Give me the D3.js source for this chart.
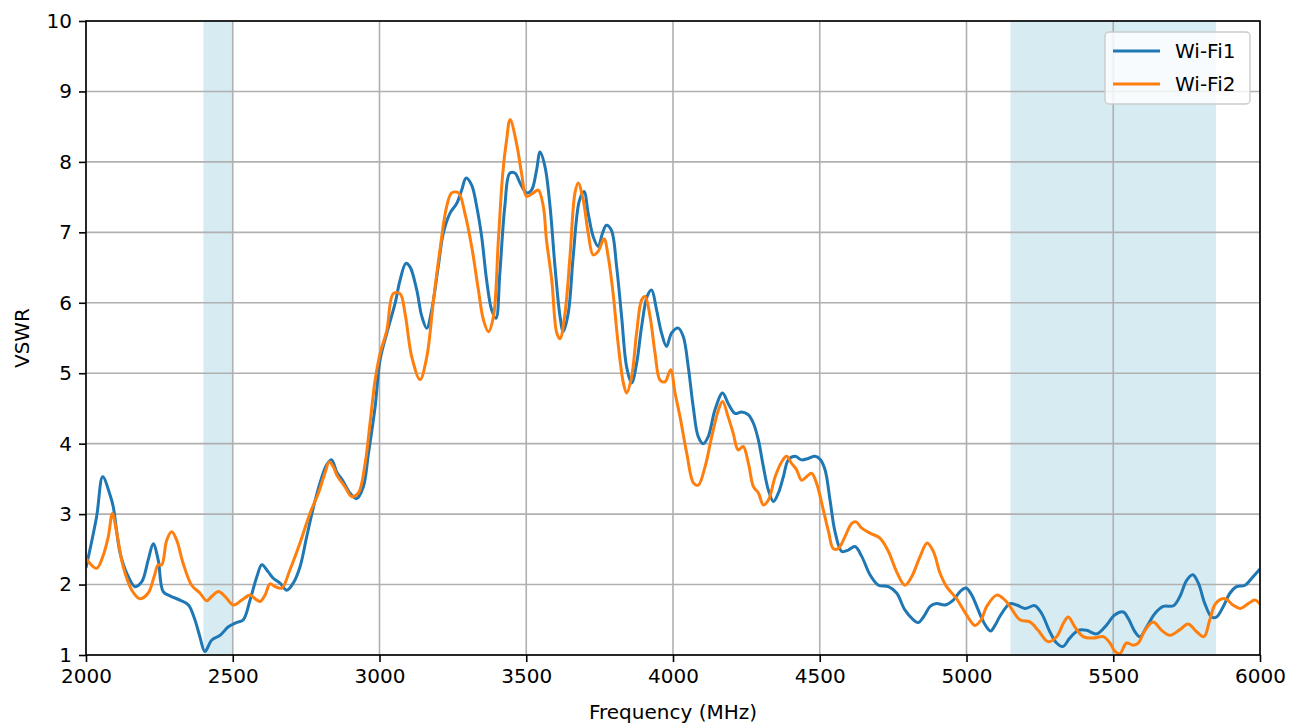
<!DOCTYPE html>
<html>
<head>
<meta charset="utf-8">
<script src="https://cdn.jsdelivr.net/npm/d3@7"></script>
<style>
  body { margin: 0; background: #fff; }
  text { font-family: "DejaVu Sans", sans-serif; }
</style>
</head>
<body>
<svg id="chart" width="1302" height="727"></svg>
<script>
// Wi-Fi1 (blue) readings: frequency in MHz, VSWR
const wifi1Freq = [2000,2036,2057,2082,2093,2116,2139,2167,2190,2212,2229,2246,2263,2286,2320,2349,2371,2388,2405,2428,2457,2485,2513,2536,2559,2582,2599,2621,2638,2661,2684,2706,2729,2752,2775,2797,2820,2837,2854,2877,2899,2922,2945,2962,2985,3002,3025,3053,3070,3090,3104,3127,3144,3161,3178,3200,3217,3240,3263,3280,3295,3314,3331,3348,3365,3382,3397,3410,3427,3444,3462,3479,3501,3518,3535,3547,3564,3581,3598,3615,3626,3643,3660,3681,3697,3711,3728,3745,3760,3773,3790,3808,3825,3842,3859,3876,3893,3912,3927,3944,3961,3978,3995,4018,4035,4052,4069,4086,4103,4120,4143,4169,4188,4211,4234,4257,4274,4291,4308,4325,4342,4359,4376,4393,4416,4438,4461,4484,4501,4518,4535,4552,4575,4597,4620,4643,4671,4700,4734,4762,4790,4819,4835,4855,4876,4898,4927,4955,4978,4998,5018,5035,5052,5068,5082,5097,5114,5148,5171,5199,5233,5256,5284,5307,5328,5352,5381,5409,5443,5472,5506,5534,5551,5574,5591,5614,5642,5670,5705,5727,5750,5771,5790,5812,5835,5852,5875,5898,5920,5949,5972,6000];
const wifi1Vswr = [2.24,2.96,3.53,3.27,3.10,2.45,2.16,1.97,2.04,2.35,2.58,2.35,1.90,1.84,1.78,1.71,1.50,1.26,1.05,1.21,1.28,1.40,1.46,1.50,1.78,2.11,2.28,2.18,2.09,2.02,1.92,2.02,2.25,2.68,3.10,3.44,3.70,3.77,3.60,3.46,3.30,3.22,3.39,3.85,4.52,5.19,5.57,5.99,6.32,6.56,6.51,6.18,5.81,5.64,5.90,6.51,6.98,7.27,7.41,7.60,7.77,7.67,7.37,6.94,6.32,5.90,5.78,6.42,7.37,7.84,7.84,7.70,7.56,7.60,7.88,8.14,7.93,7.37,6.51,5.81,5.59,5.85,6.66,7.45,7.58,7.27,6.94,6.80,6.99,7.10,7.03,6.51,5.80,5.09,4.86,5.14,5.66,6.09,6.18,5.90,5.57,5.38,5.57,5.64,5.52,5.09,4.52,4.10,4.00,4.10,4.48,4.72,4.57,4.43,4.45,4.41,4.29,4.05,3.67,3.34,3.18,3.30,3.53,3.77,3.82,3.77,3.79,3.82,3.78,3.63,3.20,2.75,2.47,2.49,2.54,2.40,2.14,1.99,1.97,1.88,1.64,1.50,1.46,1.55,1.69,1.73,1.71,1.78,1.90,1.95,1.85,1.69,1.52,1.40,1.34,1.42,1.55,1.73,1.71,1.66,1.70,1.59,1.33,1.17,1.12,1.24,1.35,1.35,1.30,1.40,1.57,1.61,1.52,1.33,1.26,1.40,1.59,1.69,1.70,1.83,2.06,2.14,2.02,1.73,1.54,1.54,1.69,1.88,1.97,1.99,2.09,2.22];

// Wi-Fi2 (orange) readings
const wifi2Freq = [2000,2036,2059,2076,2090,2105,2127,2156,2184,2212,2232,2246,2258,2275,2292,2309,2331,2360,2388,2411,2428,2451,2474,2502,2531,2559,2576,2593,2610,2627,2644,2667,2695,2729,2763,2792,2814,2829,2843,2854,2882,2905,2928,2951,2968,2985,3002,3025,3047,3070,3087,3110,3138,3161,3184,3206,3229,3246,3269,3291,3314,3337,3354,3371,3388,3405,3420,3433,3445,3467,3484,3501,3524,3541,3558,3569,3587,3604,3615,3632,3649,3666,3677,3694,3711,3728,3745,3765,3779,3796,3813,3831,3842,3859,3876,3893,3905,3922,3939,3956,3973,3992,4007,4024,4047,4070,4086,4109,4132,4155,4169,4188,4205,4222,4239,4257,4274,4291,4308,4325,4348,4370,4387,4404,4421,4438,4455,4472,4489,4512,4530,4546,4563,4586,4609,4624,4643,4671,4705,4734,4762,4790,4813,4842,4866,4887,4910,4932,4966,5000,5029,5050,5069,5103,5131,5148,5182,5216,5244,5278,5307,5330,5347,5369,5398,5432,5466,5489,5506,5523,5545,5568,5585,5608,5636,5665,5693,5727,5755,5784,5809,5829,5849,5880,5908,5932,5960,5983,6000];
const wifi2Vswr = [2.37,2.23,2.42,2.68,3.01,2.73,2.25,1.92,1.80,1.88,2.11,2.28,2.28,2.63,2.75,2.63,2.30,1.99,1.88,1.77,1.83,1.90,1.83,1.71,1.78,1.85,1.80,1.76,1.85,2.01,1.97,1.95,2.21,2.59,3.01,3.30,3.58,3.74,3.67,3.56,3.39,3.25,3.30,3.72,4.30,4.90,5.28,5.61,6.13,6.13,5.85,5.23,4.91,5.23,6.04,6.75,7.37,7.56,7.56,7.27,6.80,6.18,5.76,5.59,5.80,6.89,7.84,8.31,8.60,8.26,7.84,7.51,7.56,7.60,7.37,6.89,6.32,5.57,5.49,5.85,6.66,7.56,7.70,7.46,6.99,6.68,6.73,6.91,6.66,6.13,5.42,4.86,4.72,4.95,5.57,6.04,6.09,5.80,5.28,4.90,4.88,5.05,4.72,4.38,3.86,3.44,3.41,3.67,4.10,4.48,4.60,4.38,4.15,3.91,3.96,3.72,3.39,3.30,3.13,3.20,3.53,3.74,3.82,3.72,3.63,3.48,3.53,3.58,3.44,3.06,2.75,2.51,2.51,2.68,2.87,2.89,2.80,2.73,2.66,2.47,2.18,1.99,2.11,2.40,2.59,2.47,2.16,1.97,1.80,1.57,1.42,1.50,1.69,1.85,1.78,1.69,1.50,1.47,1.35,1.19,1.26,1.45,1.54,1.40,1.26,1.24,1.26,1.17,1.05,1.02,1.17,1.14,1.17,1.35,1.47,1.35,1.28,1.36,1.44,1.33,1.26,1.50,1.73,1.80,1.71,1.66,1.73,1.78,1.72];

const seriesNames = ["Wi-Fi1", "Wi-Fi2"];
const seriesColors = ["#1f77b4", "#ff7f0e"];
const bands = [[2400, 2500], [5150, 5850]];
const xTicks = [2000, 2500, 3000, 3500, 4000, 4500, 5000, 5500, 6000];
const yTicks = [1, 2, 3, 4, 5, 6, 7, 8, 9, 10];

const margin = {left: 86, right: 42, top: 21, bottom: 72};
const W = 1302, H = 727;
const iw = W - margin.left - margin.right;
const ih = H - margin.top - margin.bottom;

const svg = d3.select("#chart");
const g = svg.append("g").attr("transform", `translate(${margin.left},${margin.top})`);

const x = d3.scaleLinear().domain([2000, 6000]).range([0, iw]);
const y = d3.scaleLinear().domain([1, 10]).range([ih, 0]);

g.append("clipPath").attr("id", "clip")
  .append("rect").attr("width", iw).attr("height", ih);

// shaded Wi-Fi bands
g.selectAll(".band")
  .data(bands)
  .enter()
  .append("rect")
  .attr("class", "band")
  .attr("x", d => x(d[0]))
  .attr("width", d => x(d[1]) - x(d[0]))
  .attr("y", 0)
  .attr("height", ih)
  .attr("fill", "#add8e6")
  .attr("fill-opacity", 0.5);

// grid
g.selectAll(".vgrid")
  .data(xTicks)
  .enter()
  .append("line")
  .attr("x1", d => x(d)).attr("x2", d => x(d))
  .attr("y1", 0).attr("y2", ih)
  .attr("stroke", "#b0b0b0").attr("stroke-width", 1.6);

g.selectAll(".hgrid")
  .data(yTicks)
  .enter()
  .append("line")
  .attr("x1", 0).attr("x2", iw)
  .attr("y1", d => y(d)).attr("y2", d => y(d))
  .attr("stroke", "#b0b0b0").attr("stroke-width", 1.6);

const series = [
  wifi1Freq.map((f, i) => [f, wifi1Vswr[i]]),
  wifi2Freq.map((f, i) => [f, wifi2Vswr[i]])
];

const line = d3.line()
  .x(d => x(d[0]))
  .y(d => y(d[1]))
  .curve(d3.curveCatmullRom.alpha(0.5));

g.append("g").attr("clip-path", "url(#clip)")
  .selectAll("path")
  .data(series)
  .enter()
  .append("path")
  .attr("d", line)
  .attr("fill", "none")
  .attr("stroke", (d, i) => seriesColors[i])
  .attr("stroke-width", 3)
  .attr("stroke-linejoin", "round");

// axes
const xAxis = d3.axisBottom(x).tickValues(xTicks).tickSize(7).tickPadding(7).tickFormat(d3.format("d"));
const yAxis = d3.axisLeft(y).tickValues(yTicks).tickSize(7).tickPadding(7);

const gx = g.append("g").attr("transform", `translate(0,${ih})`).call(xAxis);
const gy = g.append("g").call(yAxis);
[gx, gy].forEach(a => {
  a.select(".domain").remove();
  a.selectAll("line").attr("stroke", "#000").attr("stroke-width", 1.6);
  a.selectAll("text").attr("fill", "#000").style("font-size", "20px").style("font-family", "DejaVu Sans");
});

// frame
g.append("rect")
  .attr("width", iw).attr("height", ih)
  .attr("fill", "none")
  .attr("stroke", "#000").attr("stroke-width", 1.6);

svg.append("text")
  .attr("x", margin.left + iw / 2)
  .attr("y", 719)
  .attr("text-anchor", "middle")
  .style("font-size", "20px")
  .text("Frequency (MHz)");

svg.append("text")
  .attr("transform", `translate(29,${margin.top + ih / 2}) rotate(-90)`)
  .attr("text-anchor", "middle")
  .style("font-size", "20px")
  .text("VSWR");

// legend
const legend = g.append("g").attr("transform", `translate(${iw - 155},11)`);
legend.append("rect")
  .attr("width", 145).attr("height", 72)
  .attr("rx", 4)
  .attr("fill", "#fff").attr("fill-opacity", 0.8)
  .attr("stroke", "#cccccc").attr("stroke-width", 1.4);

seriesNames.forEach((name, i) => {
  legend.append("line")
    .attr("x1", 8).attr("x2", 55)
    .attr("y1", 19 + i * 33).attr("y2", 19 + i * 33)
    .attr("stroke", seriesColors[i]).attr("stroke-width", 3);
  legend.append("text")
    .attr("x", 70)
    .attr("y", 26 + i * 33)
    .style("font-size", "20px")
    .text(name);
});
</script>
</body>
</html>
